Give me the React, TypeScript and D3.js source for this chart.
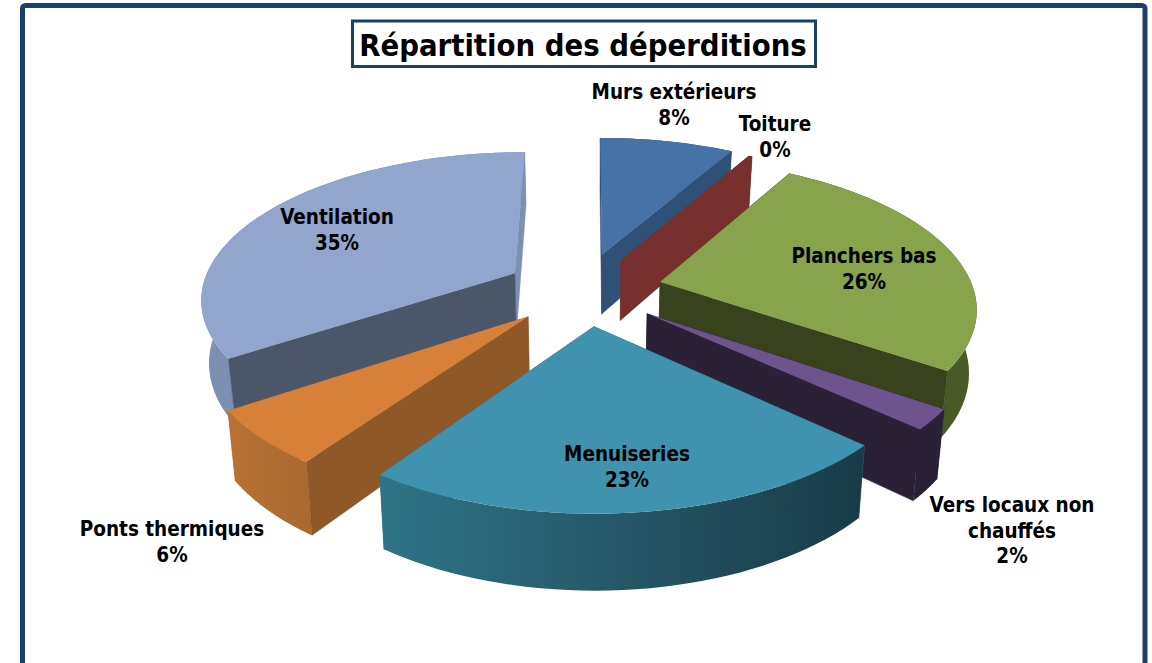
import React, { useEffect, useRef } from 'react';
import * as d3 from 'd3';

const categories = ['Murs extérieurs', 'Toiture', 'Planchers bas', 'Vers locaux non chauffés', 'Menuiseries', 'Ponts thermiques', 'Ventilation'];
const values = [8.2, 0.2, 26.3, 2.2, 22.9, 5.9, 34.5];

// label lines, broken as in the picture
const labelLines = [['Murs extérieurs'], ['Toiture'], ['Planchers bas'], ['Vers locaux non', 'chauffés'], ['Menuiseries'], ['Ponts thermiques'], ['Ventilation']];

const topColors = ['#4672a8', '#78302f', '#87a44d', '#6e548c', '#3f93ae', '#d6803a', '#91a5cd'];
const wallColors = ['#2f5178', '#78302f', '#38431d', '#2a2136', '#1a3a47', '#8e5829', '#4c5669'];
const rimStart = ['#2f5178', '#78302f', '#3a4a1f', '#2a2136', '#2f7486', '#b87234', '#7c90b4'];
const rimEnd = ['#2f5178', '#78302f', '#4a5c26', '#2a2136', '#1a3a47', '#a96a30', '#7c90b4'];

const width = 1152;
const height = 663;

// projection of the tilted pie
const cx = 589;
const cy = 290;
const scaleX = 320;
const scaleY = 148;
const radius = 0.98;
const perspective = 0.16;
const depth = 62;
const baseShrink = 0.98;

// how far each slice is pulled out, in pie units [east, north]
const explodeX = [0.042, 0.103, 0.224, 0.177, 0.015, -0.185, -0.236];
const explodeN = [0.25, 0.207, 0.054, -0.156, -0.237, -0.175, 0.115];

// label centre x, first baseline y
const labelX = [674, 775, 864, 1012, 627, 172, 337];
const labelY = [99, 131, 263, 512, 461, 536, 224];

// back to front
const paintOrder = [0, 1, 2, 3, 6, 5, 4];

const project = (x: number, n: number, low = false): [number, number] => {
  const w = 1 + perspective * n;
  const sx = scaleX * x / w;
  const sy = -scaleY * n / w;
  if (!low) return [cx + sx, cy + sy];
  return [cx + sx * baseShrink, cy + sy + depth / w];
};

export default function App() {
  const svgRef = useRef<SVGSVGElement>(null);

  useEffect(() => {
    if (!svgRef.current) return;
    const svg = d3.select(svgRef.current);
    svg.selectAll('*').remove();

    // frame
    svg.append('rect')
      .attr('x', 22.5).attr('y', 5.5)
      .attr('width', 1122.5).attr('height', 660)
      .attr('rx', 3)
      .attr('fill', '#fff')
      .attr('stroke', '#1c3e6a')
      .attr('stroke-width', 5);

    const defs = svg.append('defs');
    const pie = d3.pie<number>().sort(null).startAngle(0).endAngle(2 * Math.PI);
    const arcs = pie(values);
    const line = d3.line();

    paintOrder.forEach(i => {
      const a = arcs[i];
      const ox = explodeX[i];
      const on = explodeN[i];
      const steps = d3.range(0, 41).map(k => a.startAngle + (a.endAngle - a.startAngle) * k / 40);
      const rimTop = steps.map(t => project(ox + radius * Math.sin(t), on + radius * Math.cos(t)));
      const rimLow = steps.map(t => project(ox + radius * Math.sin(t), on + radius * Math.cos(t), true));
      const apexTop = project(ox, on);
      const apexLow = project(ox, on, true);
      const g = svg.append('g').attr('class', 'slice');

      const gradId = `rim-${i}`;
      const gradient = defs.append('linearGradient')
        .attr('id', gradId)
        .attr('gradientUnits', 'userSpaceOnUse')
        .attr('x1', d3.min(rimTop, p => p[0])!)
        .attr('x2', d3.max(rimTop, p => p[0])!)
        .attr('y1', 0).attr('y2', 0);
      gradient.append('stop').attr('offset', '0%').attr('stop-color', rimStart[i]);
      gradient.append('stop').attr('offset', '100%').attr('stop-color', rimEnd[i]);

      const startWall = [apexTop, rimTop[0], rimLow[0], apexLow] as [number, number][];
      const endWall = [apexTop, rimTop[40], rimLow[40], apexLow] as [number, number][];
      const rimWall = [...rimTop, ...rimLow.slice().reverse()];

      const drawWall = (pts: [number, number][], fill: string) =>
        g.append('path').attr('d', line(pts) + 'Z').attr('fill', fill).attr('stroke', fill).attr('stroke-width', 0.5);

      // hidden walls first so the ones facing us end up on top
      const startVisible = Math.sin(a.startAngle) < -0.01;
      const endVisible = Math.sin(a.endAngle) > 0.01;
      if (!startVisible) drawWall(startWall, rimStart[i]);
      if (!endVisible) drawWall(endWall, rimStart[i]);
      g.append('path').attr('d', line(rimWall) + 'Z').attr('fill', `url(#${gradId})`);
      if (startVisible) drawWall(startWall, wallColors[i]);
      if (endVisible) drawWall(endWall, wallColors[i]);

      g.append('path')
        .attr('d', line([apexTop, ...rimTop]) + 'Z')
        .attr('fill', topColors[i]);
    });

    // title
    svg.append('rect')
      .attr('x', 352.5).attr('y', 21)
      .attr('width', 463).attr('height', 45.5)
      .attr('fill', '#fff')
      .attr('stroke', '#1c3e6a')
      .attr('stroke-width', 3);
    svg.append('text')
      .attr('x', 583).attr('y', 56)
      .attr('text-anchor', 'middle')
      .style('font-family', '"DejaVu Sans"')
      .style('font-stretch', 'condensed')
      .style('font-weight', 'bold')
      .style('font-size', '30.7px')
      .text('Répartition des déperditions');

    // labels
    categories.forEach((_, i) => {
      const lines = [...labelLines[i], `${Math.round(values[i])}%`];
      const text = svg.append('text')
        .attr('text-anchor', 'middle')
        .style('font-family', '"DejaVu Sans"')
        .style('font-stretch', 'condensed')
        .style('font-weight', 'bold')
        .style('font-size', '20.5px')
        .attr('fill', '#000');
      lines.forEach((l, k) => {
        text.append('tspan').attr('x', labelX[i]).attr('y', labelY[i] + k * 25.5).text(l);
      });
    });
  }, []);

  return (
    <svg
      ref={svgRef}
      width={width}
      height={height}
      style={{ position: 'absolute', left: 0, top: 0, display: 'block' }}
    />
  );
}
